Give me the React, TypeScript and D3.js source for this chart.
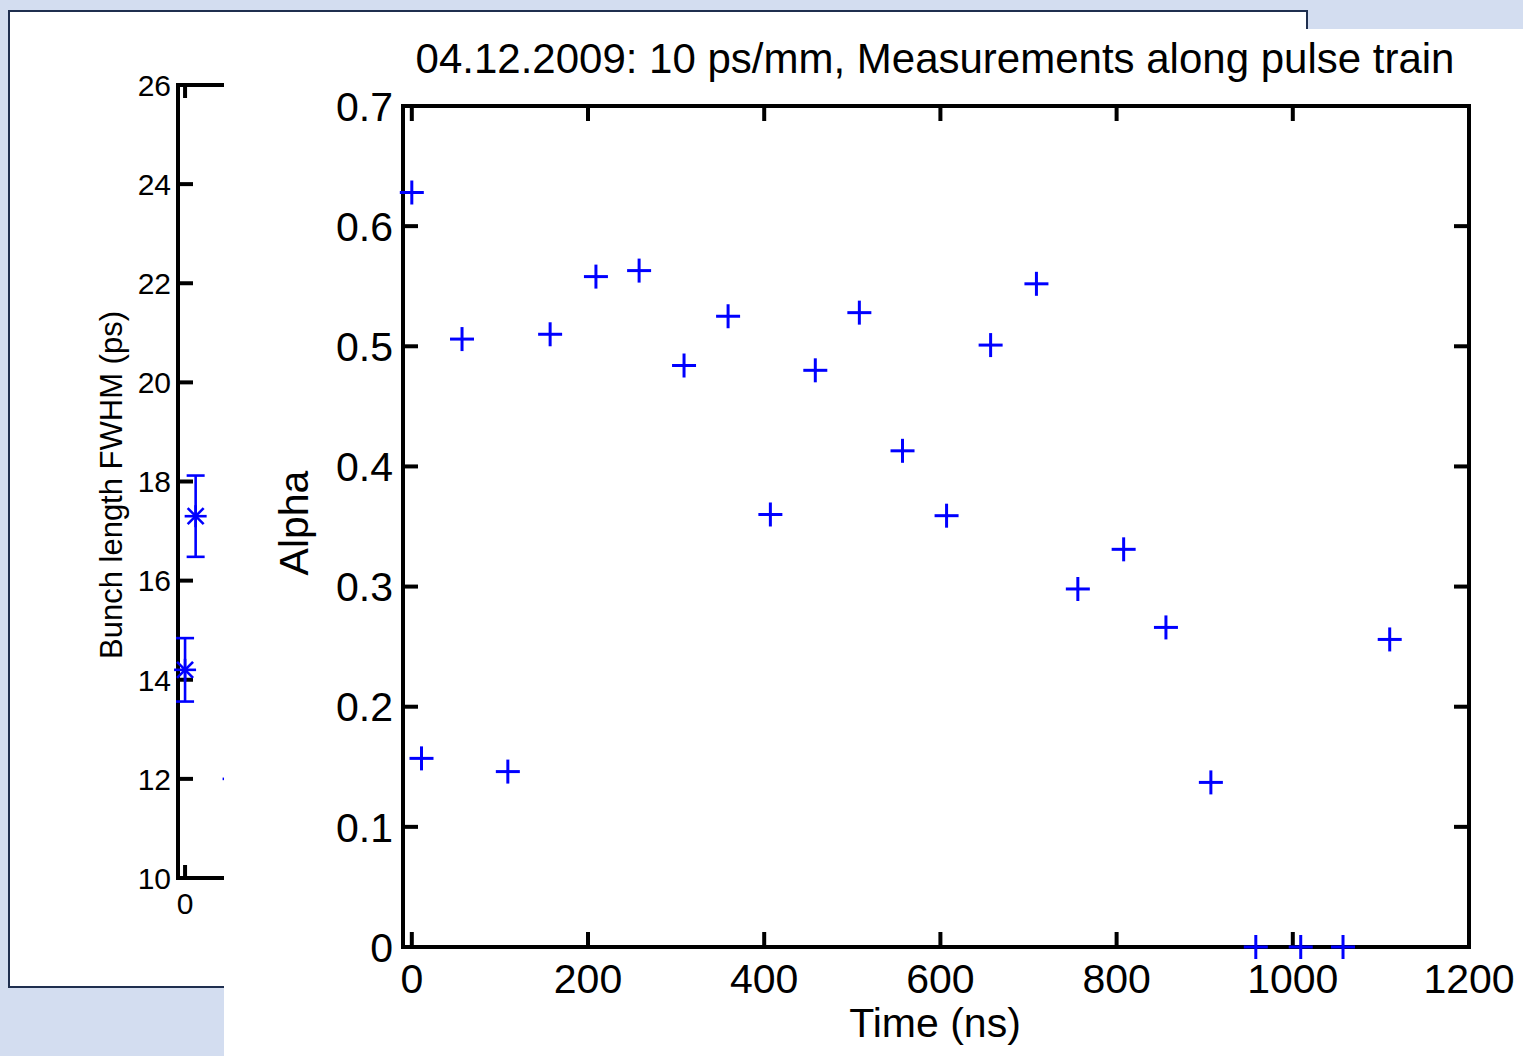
import React, { useEffect } from "react";
import * as d3 from "d3";

// Main chart data: Alpha vs Time (ns)
const timeNs = [0, 11, 57, 109, 157, 209, 258, 309, 359, 407, 458, 508, 557, 607, 657, 709, 756, 808, 856, 907, 958, 1009, 1057, 1110];
const alpha = [0.628, 0.157, 0.506, 0.146, 0.510, 0.558, 0.563, 0.484, 0.525, 0.360, 0.480, 0.528, 0.413, 0.359, 0.501, 0.552, 0.298, 0.331, 0.266, 0.137, 0, 0, 0, 0.256];
const xTicks = [0, 200, 400, 600, 800, 1000, 1200];
const yTicks = [0, 0.1, 0.2, 0.3, 0.4, 0.5, 0.6, 0.7];

// Background (partially hidden) chart: bunch length
const bunchX = [0, 12, 55];
const bunchY = [14.2, 17.3, 12.0];
const bunchErr = [0.64, 0.82, 0.6];
const bunchYTicks = [10, 12, 14, 16, 18, 20, 22, 24, 26];
const bunchXTicks = [0];

const W = 1523;
const H = 1056;
const FONT = "'Liberation Sans', Arial, Helvetica, sans-serif";
const BLUE = "#0000ff";

export default function App() {
  useEffect(() => {
    document.body.style.margin = "0";
    document.body.style.overflow = "hidden";
  }, []);

  // main scales
  const x = d3.scaleLinear().domain([-10, 1200]).range([403, 1469]);
  const y = d3.scaleLinear().domain([0, 0.7]).range([947, 106]);
  // back scales
  const bx = d3.scaleLinear().domain([-8, 1200]).range([178, 1244]);
  const by = d3.scaleLinear().domain([10, 26]).range([878, 85]);

  const tickLen = 15;
  const axisW = 4;
  const fmtY = (v: number) => (v === 0 ? "0" : d3.format(".1f")(v));

  const [x0, x1] = x.range();
  const [y0, y1] = y.range(); // y0 bottom, y1 top

  return (
    <svg width={W} height={H} style={{ position: "absolute", left: 0, top: 0, display: "block" }} fontFamily={FONT}>
      <rect x={0} y={0} width={W} height={H} fill="#d3ddf0" />

      {/* Back panel */}
      <rect x={9} y={11} width={1298} height={976} fill="#ffffff" stroke="#1f2f4f" strokeWidth={2} />
      <g>
        <line x1={bx.range()[0]} x2={bx.range()[0]} y1={by(26) - 2} y2={by(10) + 2} stroke="#000" strokeWidth={axisW} />
        <line x1={bx.range()[0] - 2} x2={300} y1={by(26)} y2={by(26)} stroke="#000" strokeWidth={axisW} />
        <line x1={bx.range()[0] - 2} x2={300} y1={by(10)} y2={by(10)} stroke="#000" strokeWidth={axisW} />
        {bunchYTicks.map((t) => (
          <g key={"by" + t}>
            <line x1={bx.range()[0]} x2={bx.range()[0] + tickLen} y1={by(t)} y2={by(t)} stroke="#000" strokeWidth={axisW} />
            <text x={171} y={by(t)} dy="0.36em" textAnchor="end" fontSize={30} fill="#000">{t}</text>
          </g>
        ))}
        {bunchXTicks.map((t) => (
          <g key={"bx" + t}>
            <line x1={bx(t)} x2={bx(t)} y1={by(10)} y2={by(10) - 13} stroke="#000" strokeWidth={axisW} />
            <line x1={bx(t)} x2={bx(t)} y1={by(26)} y2={by(26) + 13} stroke="#000" strokeWidth={axisW} />
            <text x={bx(t)} y={914} textAnchor="middle" fontSize={30} fill="#000">{t}</text>
          </g>
        ))}
        <text transform={`translate(122,485) rotate(-90)`} textAnchor="middle" fontSize={31} fill="#000">Bunch length FWHM (ps)</text>
        {bunchX.map((bxv, i) => {
          const cx = bx(bxv);
          const cy = by(bunchY[i]);
          const top = by(bunchY[i] + bunchErr[i]);
          const bot = by(bunchY[i] - bunchErr[i]);
          const r = 11;
          const d = 8;
          return (
            <g key={"b" + i} stroke={BLUE} strokeWidth={2.6}>
              <line x1={cx} x2={cx} y1={top} y2={bot} />
              <line x1={cx - 9} x2={cx + 9} y1={top} y2={top} />
              <line x1={cx - 9} x2={cx + 9} y1={bot} y2={bot} />
              <line x1={cx - r} x2={cx + r} y1={cy} y2={cy} />
              <line x1={cx} x2={cx} y1={cy - r} y2={cy + r} />
              <line x1={cx - d} x2={cx + d} y1={cy - d} y2={cy + d} />
              <line x1={cx - d} x2={cx + d} y1={cy + d} y2={cy - d} />
            </g>
          );
        })}
      </g>

      {/* Main panel */}
      <rect x={224} y={29} width={W - 224} height={H - 29} fill="#ffffff" />
      <g>
        <text x={935} y={73} textAnchor="middle" fontSize={42} fill="#000">04.12.2009: 10 ps/mm, Measurements along pulse train</text>

        <rect x={x0} y={y1} width={x1 - x0} height={y0 - y1} fill="none" stroke="#000" strokeWidth={axisW} />

        {xTicks.map((t) => (
          <g key={"x" + t}>
            <line x1={x(t)} x2={x(t)} y1={y0} y2={y0 - tickLen} stroke="#000" strokeWidth={axisW} />
            <line x1={x(t)} x2={x(t)} y1={y1} y2={y1 + tickLen} stroke="#000" strokeWidth={axisW} />
            <text x={x(t)} y={993} textAnchor="middle" fontSize={41} fill="#000">{t}</text>
          </g>
        ))}
        {yTicks.map((t) => (
          <g key={"y" + t}>
            <line x1={x0} x2={x0 + tickLen} y1={y(t)} y2={y(t)} stroke="#000" strokeWidth={axisW} />
            <line x1={x1} x2={x1 - tickLen} y1={y(t)} y2={y(t)} stroke="#000" strokeWidth={axisW} />
            <text x={393} y={y(t)} dy="0.36em" textAnchor="end" fontSize={41} fill="#000">{fmtY(t)}</text>
          </g>
        ))}

        <text transform={`translate(308,523) rotate(-90)`} textAnchor="middle" fontSize={41} fill="#000">Alpha</text>
        <text x={935} y={1037} textAnchor="middle" fontSize={41} fill="#000">Time (ns)</text>

        {timeNs.map((t, i) => {
          const cx = x(t);
          const cy = y(alpha[i]);
          const r = 12;
          return (
            <g key={"p" + i} stroke={BLUE} strokeWidth={3}>
              <line x1={cx - r} x2={cx + r} y1={cy} y2={cy} />
              <line x1={cx} x2={cx} y1={cy - r} y2={cy + r} />
            </g>
          );
        })}
      </g>
    </svg>
  );
}
